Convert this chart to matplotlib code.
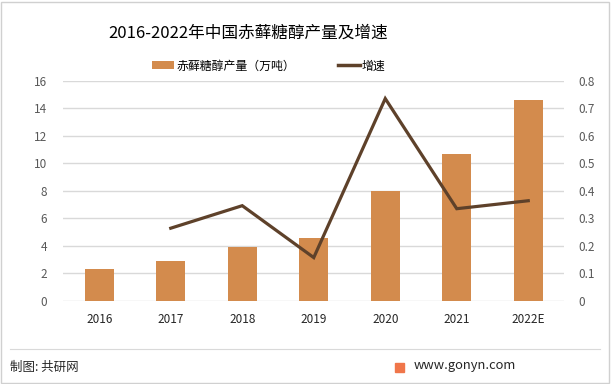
import matplotlib
matplotlib.use("Agg")
import matplotlib.pyplot as plt
from matplotlib.patches import Patch, Rectangle
from matplotlib.lines import Line2D

plt.rcParams['font.family'] = ['Noto Sans CJK SC', 'DejaVu Sans']

years = ["2016", "2017", "2018", "2019", "2020", "2021", "2022E"]
production = [2.31, 2.9, 3.92, 4.58, 8.0, 10.7, 14.58]
growth_years = ["2017", "2018", "2019", "2020", "2021", "2022E"]
growth = [0.264, 0.346, 0.157, 0.736, 0.335, 0.364]

bar_color = "#D38B4D"
line_color = "#5E412A"
tick_color = "#595959"

fig = plt.figure(figsize=(6.11, 3.84), dpi=100)
ax = fig.add_axes([63.5/611, 1-300.7/384, (564-63.5)/611, (300.7-81)/384])

x = list(range(len(years)))
ax.bar(x, production, width=0.41, color=bar_color, zorder=3)
ax.set_xlim(-0.5, len(years)-0.5)
ax.set_ylim(0, 16)
ax.set_yticks(range(0, 17, 2))
ax.grid(axis='y', color='#D9D9D9', linewidth=1, zorder=0)
ax.set_xticks(x)
ax.set_xticklabels(years)
for s in ax.spines.values():
    s.set_visible(False)
ax.tick_params(axis='both', length=0, labelsize=8.5, labelcolor=tick_color)
ax.tick_params(axis='x', pad=9, labelcolor='#262626')
ax.tick_params(axis='y', pad=12)

ax2 = ax.twinx()
gx = [years.index(y) for y in growth_years]
ax2.plot(gx, growth, color=line_color, linewidth=2.3, zorder=4, solid_joinstyle='miter')
ax2.set_ylim(0, 0.8)
ax2.set_yticks([0, 0.1, 0.2, 0.3, 0.4, 0.5, 0.6, 0.7, 0.8])
ax2.set_yticklabels(["0", "0.1", "0.2", "0.3", "0.4", "0.5", "0.6", "0.7", "0.8"])
for s in ax2.spines.values():
    s.set_visible(False)
ax2.tick_params(axis='y', length=0, labelsize=8.5, labelcolor=tick_color, pad=10)

handles = [Patch(facecolor=bar_color, edgecolor='none'),
           Line2D([0], [0], color=line_color, linewidth=2.5)]
fig.legend(handles, ["赤藓糖醇产量（万吨）", "增速"], loc='center',
           bbox_to_anchor=(269/611, 1-66/384), ncol=2, frameon=False,
           fontsize=8.6, handlelength=1.8, handleheight=0.6, columnspacing=3.6,
           handletextpad=0.2)

fig.text(248/611, 1-33/384, "2016-2022年中国赤藓糖醇产量及增速", ha='center', va='center',
         fontsize=12, color='#000000')

# footer
fig.add_artist(Line2D([10/611, 600/611], [1-349/384, 1-349/384], color='#D9D9D9', linewidth=0.8))
fig.text(10/611, 1-367/384, "制图: 共研网", ha='left', va='center', fontsize=9, color='#262626')
fig.add_artist(Rectangle((395/611, 1-372/384), 9/611, 9/384, color='#F0764A'))
fig.text(414/611, 1-366/384, "www.gonyn.com", ha='left', va='center', fontsize=9.3, color='#262626')

# outer border
fig.add_artist(Rectangle((0.002, 0.003), 0.995, 0.993, fill=False, edgecolor='#D0D0D0', linewidth=1))

fig.savefig("out.png", dpi=100)
